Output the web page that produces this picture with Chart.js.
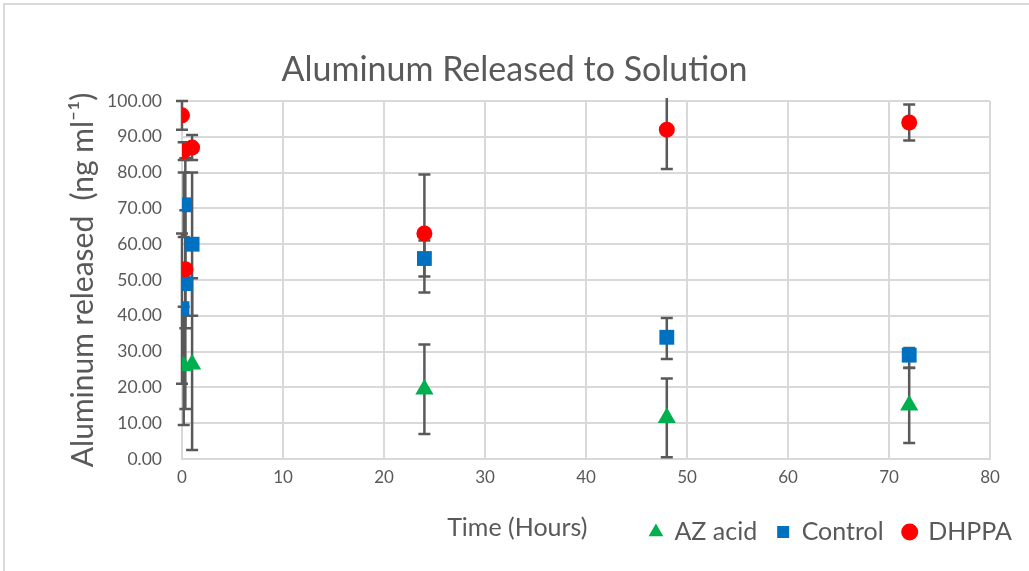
<!DOCTYPE html>
<html>
<head>
<meta charset="utf-8">
<title>Aluminum Released to Solution</title>
<script src="https://cdn.jsdelivr.net/npm/chart.js@4.4.1/dist/chart.umd.min.js"></script>
<style>
  html, body { margin: 0; padding: 0; background: #fff; }
  #box { position: absolute; left: 0; top: 0; width: 1029px; height: 571px; }
  #frame { position: absolute; left: 3px; top: 3px; width: 1030px; height: 570px;
           border-top: 2px solid #d9d9d9; border-left: 2px solid #d9d9d9; pointer-events: none; }
</style>
</head>
<body>
<div id="box"><canvas id="chartCanvas" width="1029" height="571"></canvas></div>
<div id="frame"></div>
<script>
// hours, values and error bars
const azTime = [0.17, 1, 24, 48, 72];
const azValues = [26, 26.5, 19.5, 11.5, 15];
const azPlus = [16.5, 24, 12.5, 11, 10.5];
const azMinus = [16.5, 24, 12.5, 11, 10.5];

const controlTime = [0, 0.17, 0.33, 1, 24, 48, 72];
const controlValues = [42, 71, 49, 60, 56, 34, 29];
const controlPlus = [21, 9, 35, 20, 5, 5.4, 2];
const controlMinus = [21, 9, 35, 20, 5, 6.1, 3.6];

const dhppaTime = [0, 0.17, 0.33, 1, 24, 48, 72];
const dhppaValues = [96, 86, 53, 87, 63, 92, 94];
const dhppaPlus = [4, 2.5, 16.5, 3.5, 16.5, 11, 5];
const dhppaMinus = [4, 2.5, 16.5, 3.5, 16.5, 11, 5];

const seriesNames = ['AZ acid', 'Control', 'DHPPA'];
const xTicks = [0, 10, 20, 30, 40, 50, 60, 70, 80];
const yTicks = [0, 10, 20, 30, 40, 50, 60, 70, 80, 90, 100];
const xTitle = 'Time (Hours)';

const gray = '#595959';
const font = 'Lato, "Liberation Sans", sans-serif';

function points(xs, ys) {
    return xs.map((x, i) => ({ x: x, y: ys[i] }));
}

// whiskers drawn under the markers
const errorBars = {
    id: 'errorBars',
    beforeDatasetsDraw(chart) {
        const { ctx, chartArea, scales } = chart;
        const x = scales.x, y = scales.y;
        ctx.save();
        ctx.beginPath();
        ctx.rect(chartArea.left - 10, chartArea.top - 3, chartArea.width + 20, chartArea.height + 6);
        ctx.clip();
        ctx.strokeStyle = gray;
        ctx.lineWidth = 2.5;
        chart.data.datasets.forEach(ds => {
            ds.data.forEach((pt, i) => {
                const px = x.getPixelForValue(pt.x);
                const top = y.getPixelForValue(pt.y + ds.errPlus[i]);
                const bot = y.getPixelForValue(pt.y - ds.errMinus[i]);
                ctx.beginPath();
                ctx.moveTo(px, top);
                ctx.lineTo(px, bot);
                ctx.moveTo(px - 6, top);
                ctx.lineTo(px + 6, top);
                ctx.moveTo(px - 6, bot);
                ctx.lineTo(px + 6, bot);
                ctx.stroke();
            });
        });
        ctx.restore();
    }
};

// title centred on the whole picture, legend on the same row as the x title
const bottomRow = {
    id: 'bottomRow',
    afterLayout(chart) {
        chart.legend.right = chart.width + 3;
        chart.titleBlock.left = 0;
        chart.titleBlock.right = chart.width;
    },
    afterDraw(chart) {
        const { ctx, chartArea } = chart;
        ctx.save();
        ctx.font = '25px ' + font;
        ctx.fillStyle = gray;
        ctx.textAlign = 'center';
        ctx.textBaseline = 'middle';
        ctx.fillText(xTitle, chartArea.left + chartArea.width * 0.415, chartArea.bottom + 69);
        ctx.restore();
    }
};

const ctx = document.getElementById('chartCanvas').getContext('2d');

const chart = new Chart(ctx, {
    type: 'scatter',
    data: {
        datasets: [
            {
                label: seriesNames[0],
                data: points(azTime, azValues),
                errPlus: azPlus,
                errMinus: azMinus,
                backgroundColor: '#00b050',
                borderColor: '#00b050',
                pointStyle: 'triangle',
                pointRadius: 10.5,
                borderWidth: 0,
                order: 3
            },
            {
                label: seriesNames[1],
                data: points(controlTime, controlValues),
                errPlus: controlPlus,
                errMinus: controlMinus,
                backgroundColor: '#0070c0',
                borderColor: '#0070c0',
                pointStyle: 'rect',
                pointRadius: 10.5,
                borderWidth: 0,
                order: 2
            },
            {
                label: seriesNames[2],
                data: points(dhppaTime, dhppaValues),
                errPlus: dhppaPlus,
                errMinus: dhppaMinus,
                backgroundColor: '#ff0000',
                borderColor: '#ff0000',
                pointStyle: 'circle',
                pointRadius: 8,
                borderWidth: 0,
                order: 1
            }
        ]
    },
    options: {
        responsive: false,
        animation: false,
        events: [],
        layout: {
            padding: { left: 58, right: 39, top: 50, bottom: 16.5 }
        },
        plugins: {
            title: {
                display: true,
                text: 'Aluminum Released to Solution',
                color: gray,
                font: { family: font, size: 34, weight: 'normal' },
                padding: { top: 0, bottom: 10.2 }
            },
            legend: {
                display: true,
                position: 'bottom',
                align: 'end',
                labels: {
                    usePointStyle: true,
                    boxWidth: 12,
                    boxHeight: 12,
                    padding: 20,
                    color: gray,
                    font: { family: font, size: 25 },
                    sort: (a, b) => a.datasetIndex - b.datasetIndex
                }
            },
            tooltip: { enabled: false }
        },
        scales: {
            x: {
                type: 'linear',
                min: 0,
                max: 80,
                afterBuildTicks: axis => { axis.ticks = xTicks.map(v => ({ value: v })); },
                afterFit: axis => { axis.height = 40.5; },
                grid: { color: '#d9d9d9', lineWidth: 2, drawTicks: false },
                border: { color: '#d9d9d9', width: 2 },
                ticks: {
                    color: gray,
                    padding: 8,
                    font: { family: font, size: 17 }
                }
            },
            y: {
                type: 'linear',
                min: 0,
                max: 100,
                afterBuildTicks: axis => { axis.ticks = yTicks.map(v => ({ value: v })); },
                afterFit: axis => { axis.width = 124; },
                grid: { color: '#d9d9d9', lineWidth: 2, drawTicks: false },
                border: { color: '#d9d9d9', width: 2 },
                ticks: {
                    color: gray,
                    padding: 20,
                    font: { family: font, size: 17.5 },
                    callback: value => value.toFixed(2)
                },
                title: {
                    display: true,
                    text: 'Aluminum released  (ng ml\u207B\u00B9)',
                    color: gray,
                    font: { family: font, size: 30 },
                    padding: { top: 7, bottom: 0 }
                }
            }
        }
    },
    plugins: [errorBars, bottomRow]
});
</script>
</body>
</html>
